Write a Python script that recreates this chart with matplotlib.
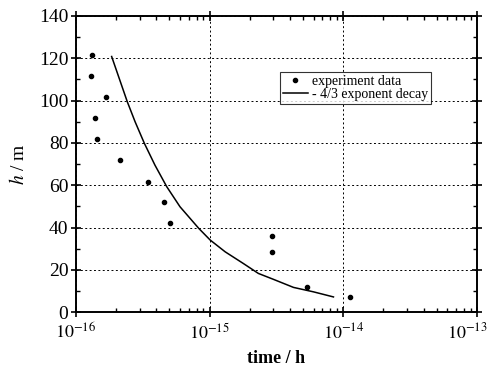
import numpy as np
import matplotlib.pyplot as plt
import matplotlib.transforms as mtransforms
from matplotlib.ticker import MultipleLocator, LogLocator, NullFormatter

plt.rcParams['font.family'] = ['Liberation Serif', 'DejaVu Serif']
plt.rcParams['mathtext.fontset'] = 'stix'

exp_t = [1.31e-16, 1.29e-16, 1.68e-16, 1.39e-16, 1.43e-16, 2.13e-16, 3.47e-16,
         4.57e-16, 5.05e-16, 2.94e-15, 2.94e-15, 5.34e-15, 1.13e-14]
exp_h = [121.6, 111.5, 101.5, 91.6, 81.7, 71.9, 61.6,
         51.9, 42.1, 36.1, 28.4, 12.0, 7.1]

# -4/3 指数衰减曲线
fit_t = [1.85e-16, 2.42e-16, 2.77e-16, 3.25e-16, 3.9e-16, 4.78e-16, 6.01e-16,
         8.3e-16, 1.01e-15, 1.31e-15, 1.79e-15, 2.32e-15, 3.01e-15, 4.25e-15,
         6.0e-15, 8.46e-15]
fit_h = [120.8, 99.5, 90.0, 79.8, 69.5, 59.3, 49.8,
         39.6, 34.1, 28.5, 23.0, 18.3, 15.5, 11.7,
         9.6, 7.2]

x_ticks = [1e-16, 1e-15, 1e-14, 1e-13]
x_ticklabels = [r'$10^{-16}$', r'$10^{-15}$', r'$10^{-14}$', r'$10^{-13}$']

fig = plt.figure(figsize=(4.9, 3.69), dpi=100)
ax = fig.add_axes([0.155, 0.154, 0.818, 0.803])

ax.plot(exp_t, exp_h, 'o', color='black', markersize=3, label='experiment data')
ax.plot(fit_t, fit_h, '-', color='black', lw=1.1, label='- 4/3 exponent decay')

ax.set_xscale('log')
ax.set_xlim(1e-16, 1e-13)
ax.set_ylim(0, 140)
ax.yaxis.set_major_locator(MultipleLocator(20))
ax.yaxis.set_minor_locator(MultipleLocator(10))
ax.set_xticks(x_ticks, x_ticklabels)
ax.xaxis.set_minor_locator(LogLocator(base=10, subs=np.arange(2, 10), numticks=10))
ax.xaxis.set_minor_formatter(NullFormatter())

ax.grid(True, which='major', color='black', linestyle=(0, (2, 2.5)), lw=0.7)

for s in ax.spines.values():
    s.set_linewidth(1.4)
ax.tick_params(which='major', direction='inout', length=7, width=1.2,
               top=True, right=True)
ax.tick_params(which='minor', direction='in', length=3, width=1.0,
               top=True, right=True)
ax.tick_params(axis='x', which='major', pad=4, labelsize=13)
ax.tick_params(axis='y', which='major', pad=2, labelsize=14)

# 最右侧刻度标签稍向左移, 避免被裁切
lab = ax.xaxis.get_major_ticks()[-1].label1
lab.set_transform(lab.get_transform() +
                  mtransforms.ScaledTranslation(-7 / 72, 0, fig.dpi_scale_trans))

ax.set_xlabel('time / h', fontsize=13, fontweight='bold', labelpad=5)
ax.set_ylabel(r'$h$ / m', fontsize=14, labelpad=8)

leg = ax.legend(loc='upper left', bbox_to_anchor=(0.509, 0.811), fontsize=10,
                frameon=True, fancybox=False, edgecolor='black',
                handlelength=1.8, handletextpad=0.3, borderpad=0.2,
                labelspacing=0.05, borderaxespad=0)
leg.get_frame().set_linewidth(0.8)

fig.savefig('out.png', dpi=100)
